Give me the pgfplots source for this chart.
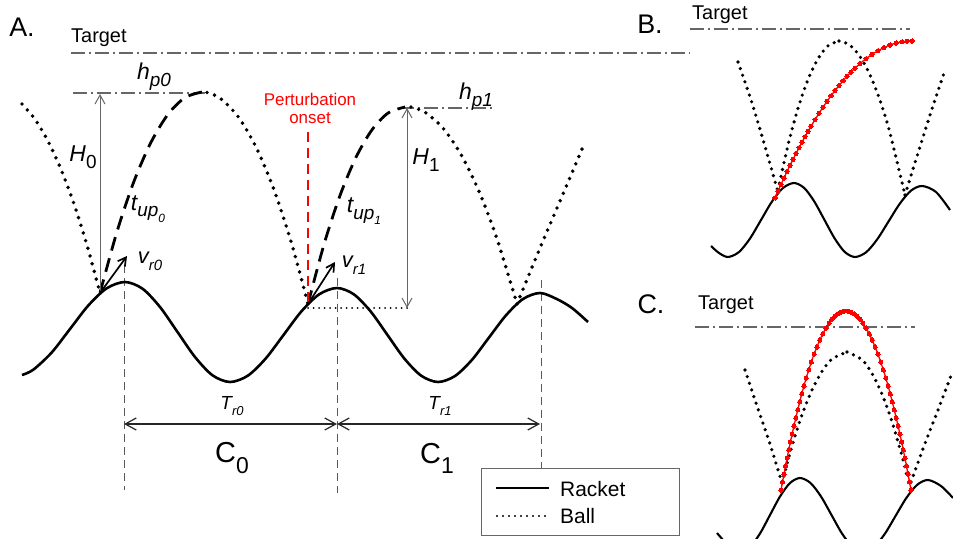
\documentclass[border=0pt]{standalone}
\usepackage{fontspec}
\setmainfont{Liberation Sans}
\usepackage{pgfplots}
\pgfplotsset{compat=1.18}
\usetikzlibrary{arrows.meta}

\pgfplotsset{
 racket/.style={black, line width=2.6bp, smooth},
 racketsm/.style={black, line width=2.1bp, smooth},
 balldot/.style={black, line width=3.9bp, dash pattern=on 0bp off 8bp, line cap=round, smooth},
 balldotsm/.style={black, line width=3.6bp, dash pattern=on 0bp off 7bp, line cap=round, smooth},
 balldash/.style={black, line width=2.8bp, dash pattern=on 14bp off 8bp, smooth},
 dashdot/.style={black!60, line width=1.3bp, dash pattern=on 14bp off 4bp on 2bp off 4bp},
 vdash/.style={black!65, line width=1bp, dash pattern=on 8bp off 5bp},
 redball/.style={red, line width=1.3bp, smooth, mark=*, mark size=2.1bp, mark options={solid, fill=red, draw=red, line width=0pt}},
 grayarrow/.style={black!60, line width=1bp},
}
\newcommand{\lbl}[1]{\fontsize{#1}{#1}\selectfont}
\newcommand{\sbs}[3][0.3em]{\raisebox{-#1}{\fontsize{#2}{#2}\selectfont #3}}

\begin{document}
\begin{tikzpicture}
\begin{axis}[scale only axis, width=953bp, height=539bp,
  xmin=0, xmax=953, ymin=0, ymax=539, y dir=reverse,
  axis lines=none, clip=true]
\path (rel axis cs:0,0) rectangle (rel axis cs:1,1);

% ---------------- Panel A ----------------
\addplot[dashdot] coordinates {(71,53) (690,53)};
\addplot[dashdot] coordinates {(73,93) (205,93)};
\addplot[dashdot] coordinates {(400,108) (495,108)};

\addplot[vdash] coordinates {(124,265) (124,490)};
\addplot[vdash] coordinates {(337,278) (337,493)};
\addplot[vdash] coordinates {(541,280) (541,470)};

\addplot[racket] coordinates {(22,375) (33.3,369.7) (51.7,352.5) (70,329) (88.3,305.5) (106.7,288.3) (125,282) (142.5,288.7) (160,307) (177.5,332) (195,357) (212.5,375.3) (230,382) (247.8,375.7) (265.7,358.5) (283.5,335) (301.3,311.5) (319.2,294.3) (337,288) (353.8,294.3) (370.7,311.5) (387.5,335) (404.3,358.5) (421.2,375.7) (438,382) (455,376) (472,359.8) (489,337.5) (506,315.3) (523,299) (540,293) (556.7,299) (572,308) (588,322)};

% ball
\addplot[balldot] coordinates {(22,104) (35,119.3) (48,141.1) (61,169.3) (74,204) (87,245.2) (100,293)};
\addplot[balldash] coordinates {(100,293) (117,231.6) (134,181.3) (151,142.3) (168,114.3) (185,97.6) (202,92)};
\addplot[balldot] coordinates {(207,92.5) (220,98.1) (238,116.5) (256,147) (274,189.8) (292,244.8) (308,304)};
\addplot[balldash] coordinates {(308,304) (324,244.4) (340,195.5) (356,157.3) (372,129.8) (388,113.1) (405,107)};
\addplot[balldot] coordinates {(411,107) (425,112.3) (443,128.1) (461,154.5) (479,191.4) (497,238.9) (517,304)};
\addplot[balldot] coordinates {(517,304) (540,248) (563,194) (585,142)};
\addplot[black, line width=2bp, dash pattern=on 0bp off 5.5bp, line cap=round] coordinates {(308,308) (408,308)};

% perturbation
\addplot[red, line width=1.6bp, dash pattern=on 10bp off 6bp] coordinates {(308,132) (308,304)};

% arrows
\addplot[grayarrow, -{Straight Barb[length=9bp,width=10bp]}] coordinates {(100,293) (100,94)};
\addplot[grayarrow, {Straight Barb[length=9bp,width=10bp]}-{Straight Barb[length=9bp,width=10bp]}] coordinates {(407,108) (407,308)};
\addplot[black, line width=1.7bp, -{Straight Barb[length=8bp,width=9bp]}] coordinates {(100,293) (127,256)};
\addplot[black, line width=1.7bp, -{Straight Barb[length=8bp,width=9bp]}] coordinates {(308,304) (335,262)};
\addplot[black!85, line width=1.2bp, {Straight Barb[length=11bp,width=12bp]}-{Straight Barb[length=11bp,width=12bp]}] coordinates {(124,424) (337,424)};
\addplot[black!85, line width=1.2bp, {Straight Barb[length=11bp,width=12bp]}-{Straight Barb[length=11bp,width=12bp]}] coordinates {(337,424) (540,424)};

% labels
\node at (axis cs:22,27) {\lbl{27}A.};
\node[anchor=west, inner sep=0pt] at (axis cs:71,38) {\lbl{20}Target};
\node at (axis cs:154,77) {\lbl{23}\textit{h\sbs{19}{p0}}};
\node at (axis cs:83,157) {\lbl{23}\textit{H}\sbs{19}{0}};
\node at (axis cs:148,209) {\lbl{23}\textit{t\sbs{19}{up\sbs{12}{0}}}};
\node at (axis cs:150,261) {\lbl{22}\textit{v\sbs{15}{r0}}};
\node[red] at (axis cs:310,99) {\lbl{17}Perturbation};
\node[red] at (axis cs:310,118) {\lbl{17}onset};
\node at (axis cs:364,211) {\lbl{23}\textit{t\sbs{19}{up\sbs{12}{1}}}};
\node at (axis cs:354,265) {\lbl{22}\textit{v\sbs{15}{r1}}};
\node at (axis cs:426,160) {\lbl{23}\textit{H}\sbs{19}{1}};
\node at (axis cs:476,97) {\lbl{23}\textit{h\sbs{19}{p1}}};
\node at (axis cs:232,406) {\lbl{19}\textit{T\sbs{13}{r0}}};
\node at (axis cs:440,406) {\lbl{19}\textit{T\sbs{13}{r1}}};
\node at (axis cs:232,458) {\lbl{29}C\sbs[0.35em]{23}{0}};
\node at (axis cs:437,458) {\lbl{29}C\sbs[0.35em]{23}{1}};

% legend
\draw[black!60, line width=1bp, fill=white] (axis cs:481,468) rectangle (axis cs:679,535);
\addplot[black, line width=2.6bp] coordinates {(496,488) (549,488)};
\addplot[black, line width=2.2bp, dash pattern=on 0bp off 6bp, line cap=round] coordinates {(497,516) (550,516)};
\node[anchor=west, inner sep=0pt] at (axis cs:560,489) {\lbl{21}Racket};
\node[anchor=west, inner sep=0pt] at (axis cs:560,516) {\lbl{21}Ball};

% ---------------- Panel B ----------------
\node at (axis cs:650,24) {\lbl{27}B.};
\node[anchor=west, inner sep=0pt] at (axis cs:692,15) {\lbl{20}Target};
\addplot[dashdot] coordinates {(690,29) (910,29)};
\addplot[racketsm] coordinates {(711,246) (719,253) (728,257) (739,252) (750,238.5) (761,220) (772,201.5) (783,188) (794,183) (804.2,188) (814.3,201.5) (824.5,220) (834.7,238.5) (844.8,252) (855,257) (866.2,252.2) (877.3,239.2) (888.5,221.5) (899.7,203.8) (910.8,190.8) (922,186) (936,192) (950,210)};
\addplot[balldotsm] coordinates {(738,62) (751,100) (764,143) (778,192)};
\addplot[balldotsm] coordinates {(778,190) (788,145.1) (798,108.3) (808,79.5) (818,58.7) (828,45.8) (839,41)};
\addplot[balldotsm] coordinates {(839,41) (849,44.5) (859,55.1) (869,72.8) (879,97.6) (889,129.4) (905,195)};
\addplot[balldotsm] coordinates {(905,195) (918,153) (931,112) (945,70)};
\addplot[redball] coordinates {(775,197.9) (778,191.1) (781,184.5) (784,178.0) (787,171.6) (790,165.4) (793,159.4) (796,153.5) (799,147.7) (802,142.2) (805,136.7) (808,131.4) (811,126.3) (815,119.7) (819,113.3) (823,107.2) (827,101.4) (831,95.8) (835,90.6) (839,85.6) (843,80.8) (847,76.3) (851,72.1) (855,68.2) (860,63.6) (866,58.7) (872,54.4) (878,50.7) (884,47.6) (890,45.0) (896,43.1) (902,41.8) (907,41.2) (912,41)};

% ---------------- Panel C ----------------
\node at (axis cs:651,304) {\lbl{27}C.};
\node[anchor=west, inner sep=0pt] at (axis cs:698,305) {\lbl{20}Target};
\addplot[dashdot] coordinates {(695,327) (915,327)};
\addplot[racketsm] coordinates {(717,533) (728,545) (740,552) (750,547) (760,533.5) (770,515) (780,496.5) (790,483) (800,478) (810.5,483) (821,496.5) (831.5,515) (842,533.5) (852.5,547) (863,552) (873.8,547.2) (884.7,534) (895.5,516) (906.3,498) (917.2,484.8) (928,480) (941,486) (953,498)};
\addplot[balldotsm] coordinates {(745,370) (757,406) (770,444) (782,483)};
\addplot[balldotsm] coordinates {(782,483) (792,445.8) (802,414.8) (812,390) (822,371.4) (832,359) (847,352)};
\addplot[balldotsm] coordinates {(847,352) (862,359.7) (872,373.5) (882,394.1) (892,421.7) (902,456) (908,480)};
\addplot[balldotsm] coordinates {(911,482) (924,446) (938,410) (952,373)};
\addplot[redball] coordinates {(781.0,490) (782.5,482) (784.0,474) (785.5,466) (787.1,458) (788.7,450) (790.4,442) (792.1,434) (793.9,426) (795.8,418) (797.7,410) (799.7,402) (801.7,394) (803.9,386) (806.2,378) (808.7,370) (811.3,362) (814.1,354) (816.9,347) (819.8,340) (822.7,334) (826.0,328) (829.2,323) (832,319.3) (835,316.1) (838,313.7) (841,312.1) (844,311.2) (848,311.2) (851,312.1) (854,313.7) (857,316.1) (860,319.3) (862.8,323) (866.0,328) (869.3,334) (872.2,340) (875.1,347) (877.9,354) (880.7,362) (883.3,370) (885.8,378) (888.1,386) (890.3,394) (892.3,402) (894.3,410) (896.2,418) (898.1,426) (899.9,434) (901.6,442) (903.3,450) (904.9,458) (906.5,466) (908.0,474) (909.5,482) (911.0,490)};

\end{axis}
\end{tikzpicture}
\end{document}
